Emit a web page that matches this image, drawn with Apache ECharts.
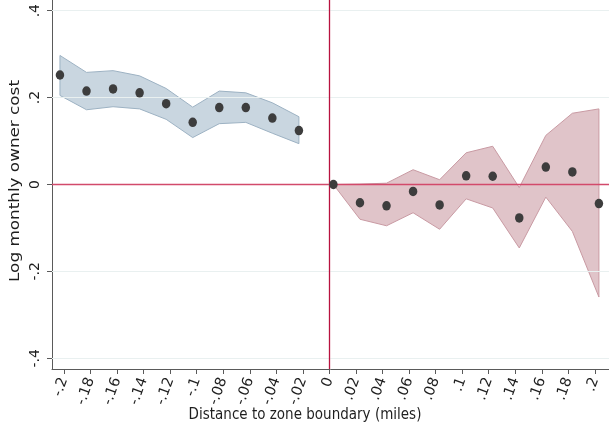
<!DOCTYPE html>
<html>
<head>
<meta charset="utf-8">
<script src="https://cdn.jsdelivr.net/npm/echarts@6/dist/echarts.min.js"></script>
<style>
  html, body { margin: 0; padding: 0; background: #fff; }
  #chart { width: 609px; height: 427px; }
</style>
</head>
<body>
<div id="chart"></div>
<script>
// Bin positions (miles from the zone boundary) and estimates with 95% bands
const xLeft = [-0.203, -0.183, -0.163, -0.143, -0.123, -0.103, -0.083, -0.063, -0.043, -0.023];
const yLeft = [0.252, 0.215, 0.220, 0.211, 0.186, 0.143, 0.177, 0.177, 0.153, 0.124];
const hiLeft = [0.297, 0.258, 0.262, 0.250, 0.221, 0.178, 0.215, 0.211, 0.188, 0.156];
const loLeft = [0.205, 0.172, 0.179, 0.174, 0.150, 0.108, 0.140, 0.143, 0.118, 0.094];

const xRight = [0.003, 0.023, 0.043, 0.063, 0.083, 0.103, 0.123, 0.143, 0.163, 0.183, 0.203];
const yRight = [0.000, -0.042, -0.049, -0.016, -0.047, 0.020, 0.019, -0.077, 0.040, 0.029, -0.044];
const hiRight = [0.000, 0.001, 0.003, 0.034, 0.011, 0.073, 0.088, -0.007, 0.113, 0.164, 0.174];
const loRight = [0.000, -0.080, -0.095, -0.065, -0.103, -0.033, -0.054, -0.146, -0.029, -0.108, -0.259];

const xTicks = [-0.2, -0.18, -0.16, -0.14, -0.12, -0.1, -0.08, -0.06, -0.04, -0.02, 0,
                0.02, 0.04, 0.06, 0.08, 0.1, 0.12, 0.14, 0.16, 0.18, 0.2];
const yTicks = [-0.4, -0.2, 0, 0.2, 0.4];

// Stata-style number labels: drop the leading zero (".2", "-.18")
function stataNum(v) {
  const r = Math.round(v * 100) / 100;
  if (r === 0) return '0';
  return String(r).replace(/^(-?)0\./, '$1.');
}

const FONT = 'DejaVu Sans';
const AXIS_COLOR = '#5a5a5a';
const TEXT_COLOR = '#1e1e1e';

// Confidence band drawn as one closed polygon through the axis scales
function bandSeries(xs, lo, hi, fill, stroke) {
  return {
    type: 'custom',
    z: 1,
    silent: true,
    data: [0],
    renderItem: function (params, api) {
      const pts = [];
      for (let i = 0; i < xs.length; i++) pts.push(api.coord([xs[i], hi[i]]));
      for (let i = xs.length - 1; i >= 0; i--) pts.push(api.coord([xs[i], lo[i]]));
      return {
        type: 'polygon',
        shape: { points: pts },
        style: { fill: fill, stroke: stroke, lineWidth: 1 }
      };
    }
  };
}

const chart = echarts.init(document.getElementById('chart'), null, { renderer: 'canvas' });

chart.setOption({
  animation: false,
  backgroundColor: '#ffffff',
  grid: { left: 52, right: 0, top: 0, bottom: 58, containLabel: false },
  xAxis: {
    type: 'value',
    min: -0.209,
    max: 0.2106,
    axisLine: { show: true, onZero: false, lineStyle: { color: AXIS_COLOR, width: 1 } },
    axisTick: { show: true, length: 5, customValues: xTicks, lineStyle: { color: AXIS_COLOR } },
    axisLabel: {
      customValues: xTicks,
      rotate: 70,
      margin: 9,
      fontFamily: FONT,
      fontSize: 14.5,
      color: TEXT_COLOR,
      formatter: stataNum
    },
    splitLine: { show: false }
  },
  yAxis: {
    type: 'value',
    min: -0.4246,
    max: 0.4246,
    axisLine: { show: true, onZero: false, lineStyle: { color: AXIS_COLOR, width: 1 } },
    axisTick: { show: true, length: 5, customValues: yTicks, lineStyle: { color: AXIS_COLOR } },
    axisLabel: {
      customValues: yTicks,
      rotate: 90,
      margin: 10,
      fontFamily: FONT,
      fontSize: 14,
      color: TEXT_COLOR,
      formatter: stataNum
    },
    splitLine: { show: false }
  },
  graphic: [
    {
      type: 'text',
      x: 305,
      y: 415,
      scaleY: 1.2,
      style: {
        text: 'Distance to zone boundary (miles)',
        align: 'center', verticalAlign: 'middle',
        font: '13.5px "DejaVu Sans"',
        fill: TEXT_COLOR
      }
    },
    {
      type: 'text',
      x: 15,
      y: 181,
      rotation: Math.PI / 2,
      scaleX: 1.2,
      style: {
        text: 'Log monthly owner cost',
        align: 'center', verticalAlign: 'middle',
        font: '14px "DejaVu Sans"',
        fill: TEXT_COLOR
      }
    }
  ],
  series: [
    // faint horizontal gridlines
    {
      type: 'line',
      data: [],
      silent: true,
      z: 0,
      markLine: {
        symbol: 'none',
        silent: true,
        label: { show: false },
        lineStyle: { color: '#e9f0f0', width: 1, type: 'solid' },
        data: yTicks.filter(v => v !== 0).map(v => ({ yAxis: v }))
      }
    },
    bandSeries(xLeft, loLeft, hiLeft, 'rgba(175,195,210,0.68)', '#9db2c3'),
    bandSeries(xRight, loRight, hiRight, 'rgba(205,160,168,0.62)', '#c99aa3'),
    // reference lines at the boundary and at zero
    {
      type: 'line',
      data: [],
      silent: true,
      z: 3,
      markLine: {
        symbol: 'none',
        silent: true,
        label: { show: false },
        data: [
          { xAxis: 0, lineStyle: { color: '#b8123f', width: 1.3, type: 'solid' } },
          { yAxis: 0, lineStyle: { color: '#d24a6b', width: 1.3, type: 'solid' } }
        ]
      }
    },
    {
      type: 'scatter',
      z: 5,
      symbol: 'circle',
      symbolSize: [8.5, 9.5],
      itemStyle: { color: '#3d3d3d', opacity: 1 },
      data: xLeft.map((x, i) => [x, yLeft[i]])
    },
    {
      type: 'scatter',
      z: 5,
      symbol: 'circle',
      symbolSize: [8.5, 9.5],
      itemStyle: { color: '#3d3d3d', opacity: 1 },
      data: xRight.map((x, i) => [x, yRight[i]])
    }
  ]
});
</script>
</body>
</html>
